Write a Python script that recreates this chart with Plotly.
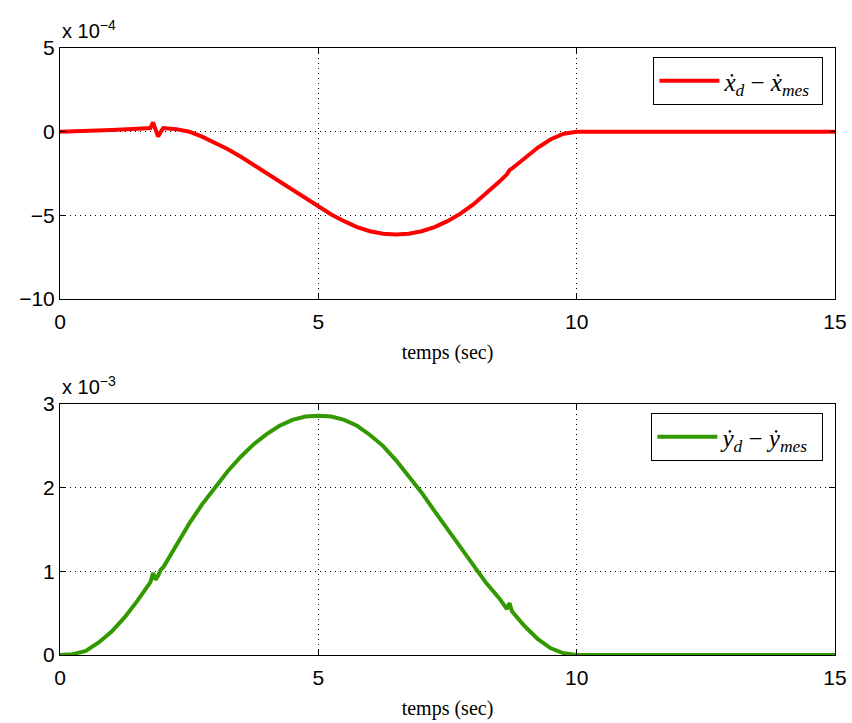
import plotly.graph_objects as go

# ---- data ----
t_x = [0, 0.5, 1.0, 1.5, 1.75, 1.8, 1.85, 1.9, 1.95, 2.0, 2.25, 2.5, 2.75, 3.0, 3.25, 3.5, 3.75,
       4.0, 4.25, 4.5, 4.75, 5.0, 5.25, 5.5, 5.75, 6.0, 6.25, 6.5, 6.75, 7.0, 7.25, 7.5, 7.75,
       8.0, 8.25, 8.5, 8.65, 8.7, 8.75, 9.0, 9.25, 9.5, 9.75, 10.0, 12.5, 15.0]
ex_vals = [0, 0.04, 0.1, 0.18, 0.22, 0.55, 0.1, -0.3, 0.0, 0.22, 0.15, 0.0, -0.3, -0.65, -1.05,
           -1.5, -2.0, -2.5, -3.0, -3.5, -4.0, -4.5, -4.95, -5.35, -5.7, -5.95, -6.1, -6.15, -6.1,
           -5.95, -5.7, -5.35, -4.9, -4.35, -3.7, -3.0, -2.55, -2.3, -2.2, -1.55, -0.95, -0.45, -0.12,
           0, 0, 0]

t_y = [0, 0.25, 0.5, 0.75, 1.0, 1.25, 1.5, 1.75, 1.8, 1.85, 1.9, 1.95, 2.0, 2.25, 2.5, 2.75,
       3.0, 3.25, 3.5, 3.75, 4.0, 4.25, 4.5, 4.75, 5.0, 5.25, 5.5, 5.75, 6.0, 6.25, 6.5, 6.75,
       7.0, 7.25, 7.5, 7.75, 8.0, 8.25, 8.5, 8.6, 8.65, 8.7, 8.75, 9.0, 9.25, 9.5, 9.75, 10.0, 12.5, 15.0]
ey_vals = [0, 0.01, 0.05, 0.15, 0.28, 0.45, 0.65, 0.87, 0.98, 0.9, 0.95, 1.02, 1.05, 1.32, 1.57, 1.8,
           2.0, 2.2, 2.37, 2.52, 2.64, 2.74, 2.81, 2.85, 2.86, 2.85, 2.81, 2.74, 2.63, 2.5, 2.33, 2.14,
           1.94, 1.72, 1.5, 1.28, 1.06, 0.86, 0.68, 0.58, 0.55, 0.62, 0.52, 0.34, 0.19, 0.08, 0.02,
           0, 0, 0]

x_ticks = [0, 5, 10, 15]
yx_ticks = [-10, -5, 0, 5]
yy_ticks = [0, 1, 2, 3]

fig = go.Figure()
fig.add_trace(go.Scatter(x=t_x, y=ex_vals, mode="lines", xaxis="x", yaxis="y",
                         line=dict(color="rgb(255,0,0)", width=4), showlegend=True,
                         name="<i>ẋ</i><sub><i>d</i></sub> − <i>ẋ</i><sub><i>mes</i></sub> ",
                         legend="legend"))
fig.add_trace(go.Scatter(x=t_y, y=ey_vals, mode="lines", xaxis="x2", yaxis="y2",
                         line=dict(color="rgb(51,153,0)", width=4), showlegend=True,
                         name="<i>ẏ</i><sub><i>d</i></sub> − <i>ẏ</i><sub><i>mes</i></sub> ",
                         legend="legend2"))

H = 723 - 48 - 68
top_lo = (655 - 299) / H
bot_hi = (655 - 404) / H

tick_font = dict(family="Liberation Sans, Arial", size=21, color="black")
axis_common = dict(showline=True, linecolor="black", linewidth=1, mirror="allticks",
                   ticks="inside", ticklen=6, tickcolor="black", showgrid=True,
                   gridcolor="black", griddash="1px,4px", gridwidth=1, zeroline=False,
                   automargin=False, tickfont=tick_font)
title_font = dict(family="Liberation Serif, DejaVu Serif", size=20, color="black")
leg_font = dict(family="Liberation Serif, DejaVu Serif", size=25, color="black")

fig.update_layout(
    width=852, height=723,
    margin=dict(l=60, r=17, t=48, b=68),
    paper_bgcolor="white", plot_bgcolor="white",
    showlegend=True,
    xaxis=dict(domain=[0, 1], anchor="y", range=[0, 15], tickvals=x_ticks, ticklabelstandoff=4,
               title=dict(text="temps (sec)", font=title_font, standoff=12), **axis_common),
    yaxis=dict(domain=[top_lo, 1], anchor="x", range=[-10, 5], tickvals=yx_ticks,
               ticktext=["−10", "−5", "0", "5"], **axis_common),
    xaxis2=dict(domain=[0, 1], anchor="y2", range=[0, 15], tickvals=x_ticks, ticklabelstandoff=4,
                title=dict(text="temps (sec)", font=title_font, standoff=12), **axis_common),
    yaxis2=dict(domain=[0, bot_hi], anchor="x2", range=[0, 3], tickvals=yy_ticks, **axis_common),
    legend=dict(x=0.985, y=0.985, xanchor="right", yanchor="top", xref="paper", yref="paper",
                bgcolor="white", bordercolor="black", borderwidth=1, itemwidth=60,
                font=leg_font),
    legend2=dict(x=0.985, y=bot_hi - 0.015, xanchor="right", yanchor="top", xref="paper", yref="paper",
                 bgcolor="white", bordercolor="black", borderwidth=1, itemwidth=60,
                 font=leg_font),
    annotations=[
        dict(text="x 10<sup>−4</sup>", x=0, y=1, xref="paper", yref="paper", xanchor="left",
             yanchor="bottom", showarrow=False, yshift=4,
             font=dict(family="Liberation Sans, Arial", size=20, color="black")),
        dict(text="x 10<sup>−3</sup>", x=0, y=bot_hi, xref="paper", yref="paper", xanchor="left",
             yanchor="bottom", showarrow=False, yshift=4,
             font=dict(family="Liberation Sans, Arial", size=20, color="black")),
    ],
)

fig.write_html("out.html", post_script="document.body.style.margin='0';",
               config={"displayModeBar": False})
